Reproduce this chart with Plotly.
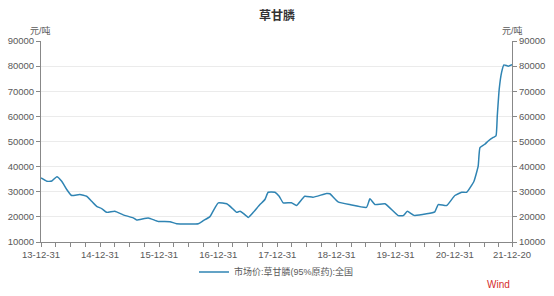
import plotly.graph_objects as go

dates = ["2013-12-31","2014-02-05","2014-03-08","2014-04-08","2014-05-08","2014-06-08","2014-07-08",
         "2014-08-28","2014-10-09","2014-11-09","2014-12-10","2015-01-10","2015-02-10","2015-04-01",
         "2015-05-23","2015-07-24","2015-08-14","2015-10-25","2015-12-26","2016-03-07","2016-04-17",
         "2016-08-29","2016-09-29","2016-11-09","2016-12-10","2016-12-31","2017-02-21","2017-03-24",
         "2017-04-23","2017-05-14","2017-06-03","2017-07-04","2017-08-04","2017-09-14","2017-10-15",
         "2017-11-04","2017-12-16","2018-01-11","2018-02-05","2018-03-28","2018-04-28","2018-06-18",
         "2018-08-08","2018-10-30","2018-11-20","2019-01-10","2019-03-24","2019-07-05","2019-07-26",
         "2019-08-26","2019-10-27","2020-01-17","2020-02-17","2020-03-13","2020-04-23","2020-07-10",
         "2020-08-30","2020-09-20","2020-11-11","2021-01-01","2021-02-12","2021-03-15","2021-04-29",
         "2021-05-25","2021-06-05","2021-07-05","2021-07-26","2021-08-26","2021-09-12","2021-09-20",
         "2021-10-02","2021-10-17","2021-10-31","2021-11-27","2021-12-20"]
prices = [35500,34200,34300,36000,34200,30900,28500,
          28900,28200,26200,24200,23300,21800,22200,
          20800,19600,18800,19600,18200,18100,17300,
          17300,18500,20100,23600,25600,25200,23600,
          21800,22200,21400,19800,21800,24900,26900,
          29800,29800,28200,25600,25600,24500,28200,
          27800,29300,29200,26000,24900,23800,27200,
          24900,25200,20500,20500,22200,20600,21200,
          22000,24900,24500,28500,29800,29800,34200,
          40200,47600,48900,50200,51600,52200,60200,
          70900,77600,80500,80000,80600]

tick_dates = ["2013-12-31","2014-12-31","2015-12-31","2016-12-31","2017-12-31",
              "2018-12-31","2019-12-31","2020-12-31","2021-12-20"]
tick_labels = ["13-12-31","14-12-31","15-12-31","16-12-31","17-12-31",
               "18-12-31","19-12-31","20-12-31","21-12-20"]
y_ticks = [10000,20000,30000,40000,50000,60000,70000,80000,90000]
y_tick_labels = [str(v) for v in y_ticks]

series_name = "市场价:草甘膦(95%原药):全国"
title = "草甘膦"
unit = "元/吨"

FONT = "Liberation Sans, Noto Sans CJK SC, sans-serif"
GRAY = "#595959"

fig = go.Figure()
fig.add_trace(go.Scatter(x=dates, y=prices, mode="lines", name=series_name,
                         line=dict(color="#2f84b3", width=1.5, shape="spline", smoothing=0.4)))
fig.add_trace(go.Scatter(x=dates, y=prices, mode="lines", yaxis="y2", showlegend=False,
                         hoverinfo="skip", line=dict(color="rgba(0,0,0,0)", width=0)))

axis_common = dict(range=[10000, 90000], tickvals=y_ticks, ticktext=y_tick_labels,
                   ticks="outside", ticklen=4, automargin=False,
                   tickcolor="#888", showline=True, linecolor="#888", linewidth=1,
                   tickfont=dict(size=9.5, color=GRAY, family=FONT), zeroline=False)

fig.update_layout(
    width=554, height=296,
    margin=dict(l=41, r=42, t=41, b=54, autoexpand=False),
    paper_bgcolor="white", plot_bgcolor="white",
    title=dict(text="<b>" + title + "</b>", x=0.5, xanchor="center", y=0.945, yanchor="middle",
               font=dict(size=12, color="#333", family=FONT)),
    xaxis=dict(type="date", range=["2013-12-31", "2021-12-20"], tickvals=tick_dates,
               ticktext=tick_labels, ticks="outside", ticklen=4, tickcolor="#888",
               showline=True, linecolor="#888", showgrid=False, zeroline=False, automargin=False,
               tickfont=dict(size=9.5, color=GRAY, family=FONT),
               minor=dict(ticks="outside", ticklen=4, tickcolor="#888", dtick="M3",
                          tick0="2013-12-31", showgrid=False)),
    yaxis=dict(side="left", showgrid=True, gridcolor="#ebebeb", gridwidth=1, **axis_common),
    yaxis2=dict(side="right", overlaying="y", showgrid=False, **axis_common),
    showlegend=True,
    legend=dict(orientation="h", x=0.5, xanchor="center", y=-0.149, yanchor="middle",
                font=dict(size=9, color=GRAY, family=FONT), itemwidth=30,
                bgcolor="rgba(0,0,0,0)"),
    annotations=[
        dict(text=unit, xref="paper", yref="paper", x=0, y=1, xanchor="right", yanchor="bottom",
             xshift=12, yshift=3, showarrow=False, font=dict(size=9, color=GRAY, family=FONT)),
        dict(text=unit, xref="paper", yref="paper", x=1, y=1, xanchor="left", yanchor="bottom",
             xshift=-12, yshift=3, showarrow=False, font=dict(size=9, color=GRAY, family=FONT)),
        dict(text="Wind", xref="paper", yref="paper", x=1, y=-0.209, xanchor="right", yanchor="middle",
             showarrow=False, font=dict(size=10, color="#d62d2d", family=FONT)),
    ],
)

fig.write_html("out.html")
